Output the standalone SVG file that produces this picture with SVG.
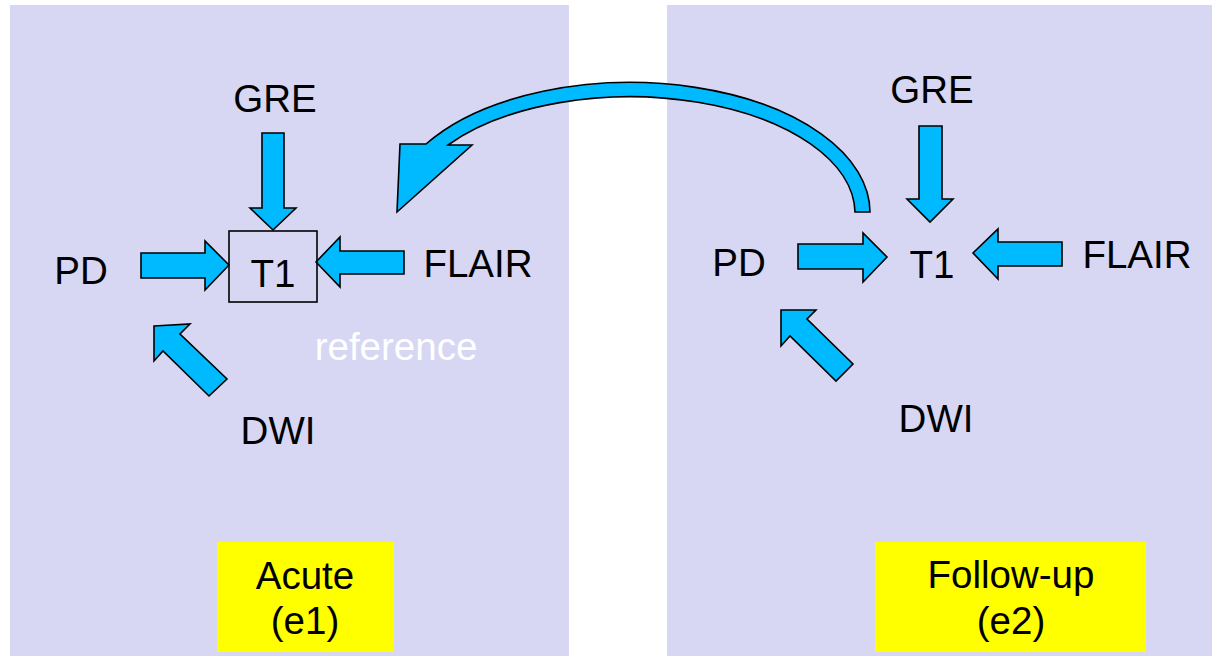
<svg xmlns="http://www.w3.org/2000/svg" width="1212" height="656" viewBox="0 0 1212 656">
<style>
.panel{fill:#D7D7F4}
.arr{fill:#00BAFF;stroke:#000;stroke-width:1.6;stroke-linejoin:miter}
.lbl{font-family:"Liberation Sans",Arial,sans-serif;font-size:38.5px;fill:#000;text-anchor:middle}
.ref{fill:#fff}
.tag{fill:#FFFF00}
</style>
<rect width="1212" height="656" fill="#fff"/>
<g id="panel-acute"><rect class="panel" x="10" y="5" width="559" height="651"/></g>
<g id="panel-followup"><rect class="panel" x="667" y="5" width="545" height="651"/></g>

<g id="connectors">
  <path class="arr" d="M870 212 A240 130 0 0 0 426 144 L400 144 L397 212 L472 145 L448 145 A225 117 0 0 1 855 212 Z"/>
  <path class="arr" d="M262 133 L284 133 L284 208 L296 208 L273 230 L250 208 L262 208 Z"/>
  <path class="arr" d="M141 253 L205 253 L205 241 L229 265 L205 290 L205 278 L141 278 Z"/>
  <path class="arr" d="M404 251 L340 251 L340 237 L316 262 L340 287 L340 274 L404 274 Z"/>
  <path class="arr" d="M154 326 L190 324 L180 334 L227 379 L209 396 L163 351 L154 361 Z"/>
  <path class="arr" d="M919 126 L942 126 L942 199 L953 199 L930 222 L907 199 L919 199 Z"/>
  <path class="arr" d="M798 244 L863 244 L863 233 L887 257 L863 282 L863 269 L798 269 Z"/>
  <path class="arr" d="M1062 242 L998 242 L998 229 L973 253 L998 279 L998 266 L1062 266 Z"/>
  <path class="arr" d="M781 310 L816 310 L807 319 L853 364 L836 381 L790 336 L781 346 Z"/>
</g>

<g id="acute-gre"><text class="lbl" x="275" y="112">GRE</text></g>
<g id="acute-t1"><rect x="229" y="231" width="88" height="71" fill="none" stroke="#000" stroke-width="1.6"/><text class="lbl" x="273" y="287">T1</text></g>
<g id="acute-pd"><text class="lbl" x="81" y="284">PD</text></g>
<g id="acute-flair"><text class="lbl" x="478" y="277">FLAIR</text></g>
<g id="acute-dwi"><text class="lbl" x="278" y="444">DWI</text></g>
<g id="acute-reference"><text class="lbl ref" x="396" y="360">reference</text></g>
<g id="acute-tag"><rect class="tag" x="217" y="542" width="177" height="110"/><text class="lbl" x="305" y="589">Acute</text><text class="lbl" x="305" y="634">(e1)</text></g>

<g id="followup-gre"><text class="lbl" x="932" y="103">GRE</text></g>
<g id="followup-t1"><text class="lbl" x="932" y="278">T1</text></g>
<g id="followup-pd"><text class="lbl" x="739" y="276">PD</text></g>
<g id="followup-flair"><text class="lbl" x="1137" y="268">FLAIR</text></g>
<g id="followup-dwi"><text class="lbl" x="936" y="432">DWI</text></g>
<g id="followup-tag"><rect class="tag" x="875" y="542" width="271" height="110"/><text class="lbl" x="1011" y="588">Follow-up</text><text class="lbl" x="1011" y="634">(e2)</text></g>
</svg>
